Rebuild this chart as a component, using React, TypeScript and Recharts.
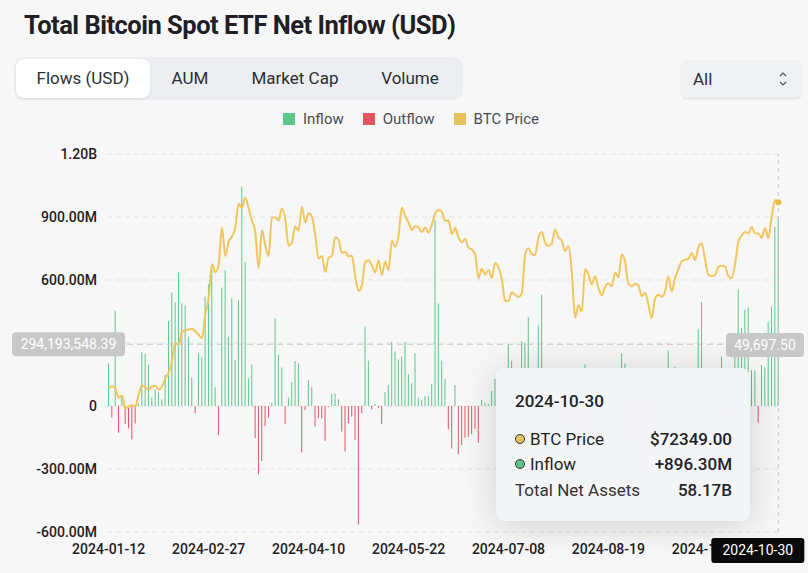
import React from "react";
import {
  ComposedChart,
  Bar,
  Line,
  XAxis,
  YAxis,
  CartesianGrid,
  Tooltip,
  ReferenceLine,
  Cell,
} from "recharts";

const FONT = "Roboto, 'Noto Sans', sans-serif";
const GREEN = "#5ec68b";
const RED = "#e25562";
const GOLD = "#f2c65c";

// trading calendar (US market days)
const START_DATE = "2024-01-12";
const END_DATE = "2024-10-30";
const HOLIDAYS = ["2024-01-15", "2024-02-19", "2024-03-29", "2024-05-27", "2024-06-19", "2024-07-04", "2024-09-02"];

// daily net flow, USD millions
const FLOWS_M = [
  203, -54, 454, -127, 52, -86, -106, -159, -83, 13,
  255, 248, 196, 40, 79, 65, 32, 148, 405, 541,
  494, 636, 489, 479, 330, 136, -35, 251, 232, 520,
  579, 655, 89, -138, 563, 647, 330, 513, 219, 505,
  1045, 684, 132, 198, -154, -325, -262, -95, -56, 13,
  417, 243, 183, -86, 40, 113, 214, 203, -222, -19,
  124, 89, -98, -58, -60, -165, -5, 57, 60, 32,
  -122, -217, -83, -51, -162, -564, -35, 378, 216, -16,
  10, -11, -86, 65, 100, 303, 259, 222, 235, 305,
  152, 108, 251, 41, 29, 48, 48, 105, 887, 488,
  216, 129, -111, -202, 100, -229, -186, -151, -146, -135,
  -110, -175, 29, 16, 10, 71, 129, -14, -20, 143,
  293, 216, 79, 73, 308, 300, 423, 53, 19, 383,
  530, 22, -77, 31, 175, 124, -18, 51, -80, -237,
  -168, -149, 45, 198, -90, 28, 39, -81, 11, 33,
  62, 88, 39, 65, 251, 202, -127, -105, -72, -175,
  -288, -37, -211, -169, 29, 117, -43, 39, 263, 13,
  187, -53, 158, 92, 5, 136, 106, 366, 494, -243,
  -92, -54, 26, 25, 235, -19, -8, -81, 254, 556,
  371, 458, 470, 172, 168, -79, 195, 184, 401, 473,
  854, 896.3,
];

// BTC close, USD
const BTC_PRICE = [
  42850, 43150, 42750, 41300, 41650, 39550, 39850, 40100, 39950, 41800,
  43300, 42950, 42600, 43100, 43200, 42600, 43100, 44350, 45300, 47150,
  50000, 49700, 51800, 52000, 52150, 52250, 51850, 51300, 50750, 54500,
  57100, 62500, 61200, 62400, 68300, 63800, 66100, 66900, 68300, 72100,
  71500, 73100, 71400, 69400, 67600, 61900, 67900, 65500, 63800, 69900,
  69950, 69450, 71350, 69700, 65450, 65950, 68500, 67850, 71600, 69150,
  70600, 70050, 67150, 63400, 63800, 61300, 63500, 63850, 66800, 66400,
  64300, 64500, 63750, 63850, 60600, 58250, 59100, 62900, 63150, 62300,
  61200, 63100, 60800, 62900, 61550, 66250, 65250, 67050, 71450, 70150,
  69150, 67950, 68550, 68350, 67600, 68350, 67500, 68800, 70550, 71100,
  70800, 69350, 69500, 67300, 68250, 66750, 66000, 66500, 65150, 64850,
  64100, 60300, 61800, 60850, 61600, 60300, 62700, 62000, 60200, 56650,
  56700, 58000, 57700, 57350, 57900, 64100, 65050, 64100, 63950, 66700,
  67600, 65950, 65400, 65800, 68000, 66800, 66200, 64600, 65350, 61400,
  54000, 56000, 55000, 61700, 60850, 59350, 60600, 58750, 57550, 58900,
  59500, 59000, 61150, 60400, 64100, 62900, 59400, 59000, 59400, 59100,
  57450, 57950, 56150, 53950, 57050, 57650, 57350, 58150, 60550, 58200,
  60300, 61750, 62950, 63200, 63350, 64300, 63150, 65200, 65800, 63300,
  60800, 60650, 60750, 62100, 62250, 62150, 60600, 60300, 62450, 66050,
  67050, 67600, 67400, 68400, 67400, 67400, 66700, 68200, 66650, 70000,
  72700, 72349,
];

const FLOW_TICKS = [-600e6, -300e6, 0, 300e6, 600e6, 900e6, 1200e6];
const FLOW_DOMAIN = [-600e6, 1200e6];
const PRICE_DOMAIN = [20000, 80000];
const TABS = ["Flows (USD)", "AUM", "Market Cap", "Volume"];
const TAB_WIDTHS = [134, 80, 130, 100];
const LEGEND = [
  { name: "Inflow", color: GREEN },
  { name: "Outflow", color: RED },
  { name: "BTC Price", color: "#e6c05a" },
];
const POINTER_FLOW = 294193548.39;
const POINTER_PRICE = 49697.5;
const TOTAL_NET_ASSETS = "58.17B";

function tradingDays(start: string, end: string, holidays: string[]) {
  const out: string[] = [];
  const d = new Date(start + "T00:00:00Z");
  const last = new Date(end + "T00:00:00Z");
  while (d <= last) {
    const iso = d.toISOString().slice(0, 10);
    const wd = d.getUTCDay();
    if (wd !== 0 && wd !== 6 && !holidays.includes(iso)) out.push(iso);
    d.setUTCDate(d.getUTCDate() + 1);
  }
  return out;
}

const DATES = tradingDays(START_DATE, END_DATE, HOLIDAYS);
const data = DATES.map((date, i) => ({ date, flow: FLOWS_M[i] * 1e6, price: BTC_PRICE[i] }));
const LAST_DATE = DATES[DATES.length - 1];

const W = 808;
const H = 573;
const PLOT = { top: 154, right: 28, bottom: 41, left: 107 };

function fmtFlow(v: number) {
  if (v === 0) return "0";
  if (Math.abs(v) >= 1e9) return (v / 1e9).toFixed(2) + "B";
  return (v / 1e6).toFixed(2) + "M";
}

function fmtPlain(v: number) {
  return v.toLocaleString("en-US", { minimumFractionDigits: 2, maximumFractionDigits: 2 });
}

function FlowTooltip({ active, payload, label }: any) {
  if (!active || !payload || !payload.length) return null;
  const row = payload[0].payload;
  const inflow = row.flow >= 0;
  const rowStyle: React.CSSProperties = {
    display: "flex",
    justifyContent: "space-between",
    alignItems: "center",
    height: 25.5,
  };
  const dot = (c: string) => (
    <span
      style={{
        width: 8,
        height: 8,
        borderRadius: 5,
        background: c,
        border: "1px solid #333",
        display: "inline-block",
        marginRight: 5,
      }}
    />
  );
  return (
    <div
      style={{
        width: 254,
        height: 153,
        boxSizing: "border-box",
        padding: "20px 18px 0 19px",
        background: "rgba(244,245,247,0.98)",
        borderRadius: 9,
        boxShadow: "0 4px 36px rgba(0,0,0,0.16)",
        fontFamily: FONT,
        color: "#1e2329",
        fontSize: 17,
      }}
    >
      <div style={{ fontWeight: 500, height: 26, lineHeight: "26px", marginBottom: 12 }}>{label}</div>
      <div style={rowStyle}>
        <span style={{ display: "flex", alignItems: "center" }}>
          {dot("#e6c05a")}BTC Price
        </span>
        <span style={{ fontWeight: 500 }}>${row.price.toFixed(2)}</span>
      </div>
      <div style={rowStyle}>
        <span style={{ display: "flex", alignItems: "center" }}>
          {dot(inflow ? GREEN : RED)}
          {inflow ? "Inflow" : "Outflow"}
        </span>
        <span style={{ fontWeight: 500 }}>
          {inflow ? "+" : ""}
          {fmtFlow(row.flow)}
        </span>
      </div>
      <div style={rowStyle}>
        <span style={{ color: "#333" }}>Total Net Assets</span>
        <span style={{ fontWeight: 500 }}>{TOTAL_NET_ASSETS}</span>
      </div>
    </div>
  );
}

function LeftPointerLabel({ viewBox }: any) {
  const x = viewBox.x - 95;
  const y = viewBox.y - 12;
  return (
    <g>
      <rect x={x} y={y} width={113} height={24} rx={4} fill="#c8c8c8" />
      <text x={x + 56.5} y={y + 12} dy="0.35em" textAnchor="middle" fill="#fff" fontSize={14} fontFamily={FONT}>
        {fmtPlain(POINTER_FLOW)}
      </text>
    </g>
  );
}

function RightPointerLabel({ viewBox }: any) {
  const x = viewBox.x + viewBox.width - 54;
  const y = viewBox.y - 12;
  return (
    <g>
      <rect x={x} y={y} width={78} height={24} rx={4} fill="#c8c8c8" />
      <text x={x + 39} y={y + 12} dy="0.35em" textAnchor="middle" fill="#fff" fontSize={14} fontFamily={FONT}>
        {fmtPlain(POINTER_PRICE)}
      </text>
    </g>
  );
}

function DatePointerLabel({ viewBox }: any) {
  const x = viewBox.x - 67;
  const y = viewBox.y + viewBox.height + 6;
  return (
    <g>
      <rect x={x} y={y} width={93} height={25} rx={3} fill="#0b0b0b" />
      <text x={x + 46.5} y={y + 12.5} dy="0.35em" textAnchor="middle" fill="#fff" fontSize={14} fontFamily={FONT}>
        {LAST_DATE}
      </text>
    </g>
  );
}

const tickStyle = { fontSize: 14, fill: "#1e2026", fontFamily: FONT, fontWeight: 500 };

export default function App() {
  return (
    <div
      style={{
        position: "absolute",
        left: 0,
        top: 0,
        width: W,
        height: H,
        background: "#f7f7f7",
        fontFamily: FONT,
        overflow: "hidden",
      }}
    >
      <div
        style={{
          position: "absolute",
          left: 24,
          top: 10,
          fontSize: 25.5,
          fontWeight: 700,
          color: "#1e2026",
          letterSpacing: -0.5,
          whiteSpace: "nowrap",
        }}
      >
        Total Bitcoin Spot ETF Net Inflow (USD)
      </div>

      <div
        style={{
          position: "absolute",
          left: 14,
          top: 57,
          width: 449,
          height: 43,
          background: "#eceef1",
          borderRadius: 10,
          display: "flex",
          alignItems: "center",
          padding: "0 2px",
          boxSizing: "border-box",
        }}
      >
        {TABS.map((t, i) => (
          <div
            key={t}
            style={{
              width: TAB_WIDTHS[i],
              height: 39,
              lineHeight: "39px",
              textAlign: "center",
              fontSize: 17,
              color: "#2b2f36",
              background: i === 0 ? "#ffffff" : "transparent",
              borderRadius: 8,
              boxShadow: i === 0 ? "0 1px 3px rgba(0,0,0,0.08)" : "none",
            }}
          >
            {t}
          </div>
        ))}
      </div>

      <div
        style={{
          position: "absolute",
          left: 681,
          top: 60,
          width: 121,
          height: 38,
          background: "#eef0f2",
          borderRadius: 6,
          boxShadow: "0 1px 2px rgba(0,0,0,0.1)",
          boxSizing: "border-box",
          padding: "0 14px 0 12px",
          display: "flex",
          alignItems: "center",
          justifyContent: "space-between",
          fontSize: 17,
          color: "#2b2f36",
        }}
      >
        <span>All</span>
        <svg width={10} height={18} viewBox="0 0 10 18">
          <path d="M2 6 L5 3 L8 6" fill="none" stroke="#555" strokeWidth={1.2} />
          <path d="M2 12 L5 15 L8 12" fill="none" stroke="#555" strokeWidth={1.2} />
        </svg>
      </div>

      <div
        style={{
          position: "absolute",
          left: 283,
          top: 110,
          display: "flex",
          alignItems: "center",
          fontSize: 15,
          color: "#474d57",
        }}
      >
        {LEGEND.map((l) => (
          <span key={l.name} style={{ display: "flex", alignItems: "center", marginRight: 19 }}>
            <span style={{ width: 12, height: 12, background: l.color, display: "inline-block", marginRight: 8 }} />
            {l.name}
          </span>
        ))}
      </div>

      {/* base layer: grid, axes, bars */}
      <div style={{ position: "absolute", left: 0, top: 0 }}>
        <ComposedChart
          width={W}
          height={H}
          data={data}
          margin={{ top: PLOT.top, right: PLOT.right, bottom: 11, left: 0 }}
          barCategoryGap="30%"
        >
          <CartesianGrid vertical={false} stroke="#e3e3e3" strokeDasharray="5 4" />
          <XAxis
            dataKey="date"
            interval={29}
            tickLine={false}
            axisLine={false}
            height={30}
            tickMargin={6}
            tick={tickStyle}
          />
          <YAxis
            domain={FLOW_DOMAIN}
            ticks={FLOW_TICKS}
            tickFormatter={fmtFlow}
            width={PLOT.left}
            tickLine={false}
            axisLine={false}
            tickMargin={4}
            tick={tickStyle}
          />
          <Bar dataKey="flow" isAnimationActive={false}>
            {data.map((d, i) => (
              <Cell key={`c-${i}`} fill={d.flow >= 0 ? GREEN : RED} />
            ))}
          </Bar>
        </ComposedChart>
      </div>

      {/* top layer: price line, crosshair, tooltip */}
      <div style={{ position: "absolute", left: 0, top: 0 }}>
        <ComposedChart width={W} height={H} data={data} margin={PLOT} barCategoryGap="30%">
          <XAxis dataKey="date" hide />
          <YAxis domain={FLOW_DOMAIN} hide />
          <YAxis yAxisId="price" orientation="right" domain={PRICE_DOMAIN} hide />
          <Bar dataKey="flow" fillOpacity={0} isAnimationActive={false} />
          <Line
            yAxisId="price"
            dataKey="price"
            type="monotone"
            stroke={GOLD}
            strokeWidth={2}
            dot={false}
            activeDot={{ r: 3, fill: "#e9b949", stroke: "none" }}
            isAnimationActive={false}
          />
          <ReferenceLine
            y={POINTER_FLOW}
            stroke="#c4c4c4"
            strokeDasharray="6 4"
            ifOverflow="visible"
            label={<LeftPointerLabel />}
          />
          <ReferenceLine
            yAxisId="price"
            y={POINTER_PRICE}
            strokeOpacity={0}
            ifOverflow="visible"
            label={<RightPointerLabel />}
          />
          <ReferenceLine
            x={LAST_DATE}
            stroke="#c4c4c4"
            strokeDasharray="4 4"
            ifOverflow="visible"
            label={<DatePointerLabel />}
          />
          <Tooltip
            active
            defaultIndex={DATES.length - 1}
            position={{ x: 496, y: 368 }}
            cursor={false}
            isAnimationActive={false}
            content={<FlowTooltip />}
            wrapperStyle={{ outline: "none" }}
          />
        </ComposedChart>
      </div>
    </div>
  );
}
